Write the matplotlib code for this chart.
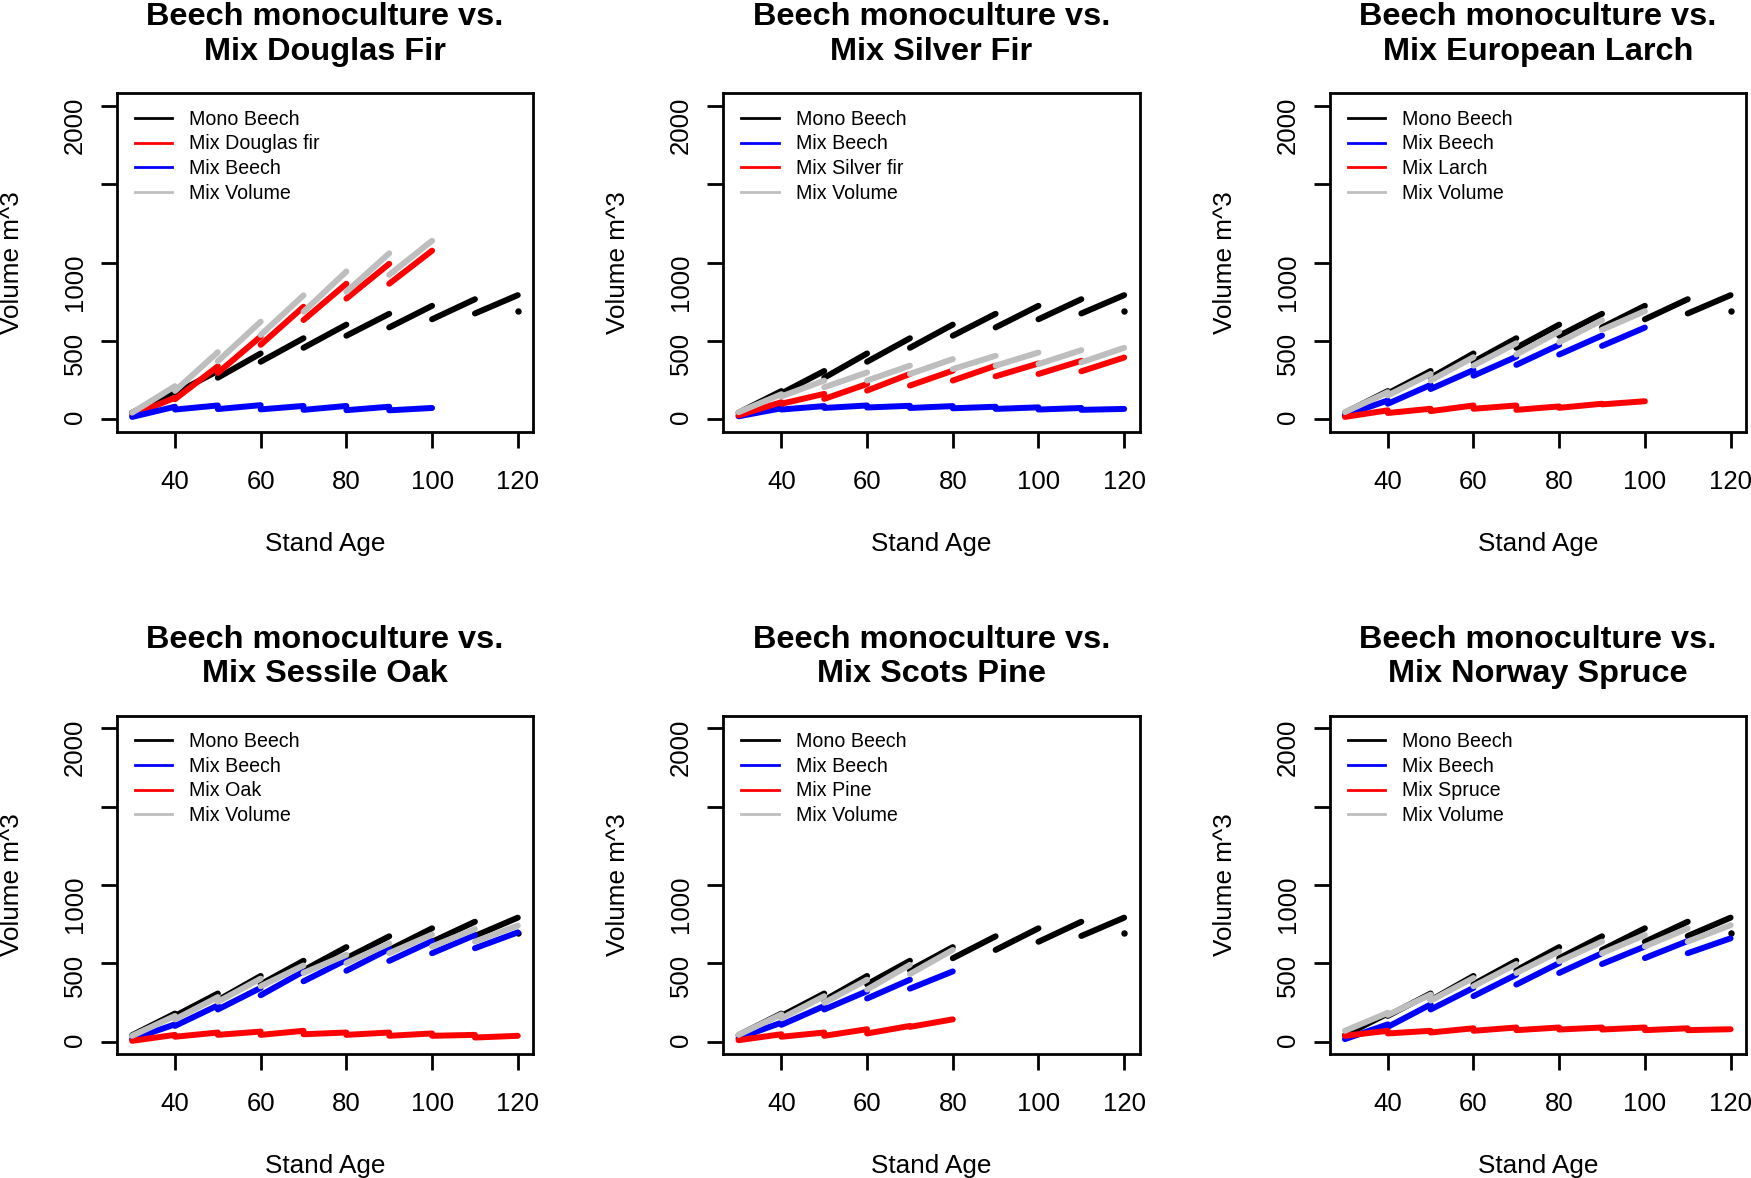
import matplotlib
matplotlib.use('Agg')
import matplotlib.pyplot as plt
from matplotlib.lines import Line2D

plt.rcParams['font.family'] = ['Liberation Sans', 'DejaVu Sans']

# thinning ages: each segment runs from ages[i] to ages[i+1]
ages = [30, 40, 50, 60, 70, 80, 90, 100, 110, 120]

# beech monoculture (same in every panel), volume at start / end of each period
mono_start = [42, 165, 265, 367, 456, 533, 586, 638, 675]
mono_end = [180, 308, 420, 517, 604, 673, 724, 766, 792]
mono_after = 694  # value after the last thinning at 120

# Douglas fir mixture (to age 100)
dgl_fir_start = [27, 128, 296, 475, 633, 770, 865]
dgl_fir_end = [137, 338, 528, 718, 865, 992, 1076]
dgl_beech_start = [15, 62, 65, 63, 60, 58, 57]
dgl_beech_end = [80, 88, 90, 85, 85, 80, 72]
dgl_vol_start = [42, 181, 370, 538, 686, 813, 922]
dgl_vol_end = [211, 428, 623, 791, 943, 1059, 1139]

# Silver fir mixture
sfr_beech_start = [19, 62, 72, 75, 72, 70, 66, 62, 60]
sfr_beech_end = [70, 84, 88, 86, 84, 80, 76, 72, 66]
sfr_fir_start = [25, 99, 130, 183, 215, 247, 274, 289, 306]
sfr_fir_end = [109, 162, 225, 289, 310, 342, 356, 373, 394]
sfr_vol_start = [45, 146, 204, 247, 289, 320, 342, 352, 363]
sfr_vol_end = [160, 247, 299, 342, 384, 405, 426, 441, 456]

# European larch mixture (to age 100)
lrc_beech_start = [25, 99, 193, 278, 347, 413, 468]
lrc_beech_end = [120, 219, 314, 399, 475, 534, 585]
lrc_larch_start = [15, 40, 52, 67, 60, 73, 95]
lrc_larch_end = [57, 67, 88, 88, 82, 99, 115]
lrc_vol_start = [46, 152, 247, 342, 413, 491, 571]
lrc_vol_end = [173, 289, 396, 485, 560, 632, 690]

# Sessile oak mixture
oak_beech_start = [17, 101, 206, 297, 386, 453, 516, 565, 597]
oak_beech_end = [111, 232, 344, 449, 523, 592, 643, 681, 698]
oak_oak_start = [6, 32, 44, 44, 48, 44, 38, 38, 27]
oak_oak_end = [44, 59, 65, 70, 59, 59, 53, 44, 38]
oak_vol_start = [38, 143, 255, 354, 439, 502, 565, 608, 639]
oak_vol_end = [165, 285, 403, 487, 555, 628, 684, 719, 741]

# Scots pine mixture (to age 80)
pin_beech_start = [23, 108, 206, 276, 339]
pin_beech_end = [122, 228, 323, 396, 449]
pin_pine_start = [10, 32, 38, 53, 95]
pin_pine_end = [48, 59, 80, 101, 143]
pin_vol_start = [44, 149, 249, 333, 432]
pin_vol_end = [175, 291, 396, 491, 586]

# Norway spruce mixture
spr_beech_start = [17, 95, 206, 291, 365, 439, 496, 534, 565]
spr_beech_end = [111, 238, 344, 428, 502, 565, 608, 643, 660]
spr_spruce_start = [38, 53, 59, 70, 74, 78, 78, 74, 74]
spr_spruce_end = [70, 70, 86, 91, 91, 91, 91, 86, 80]
spr_vol_start = [70, 171, 263, 354, 439, 513, 565, 608, 639]
spr_vol_end = [185, 301, 407, 496, 576, 639, 681, 723, 744]

GRAY = '#BEBEBE'

panels = [
    ("Beech monoculture vs.\nMix Douglas Fir",
     [("Mix Douglas fir", 'red', dgl_fir_start, dgl_fir_end),
      ("Mix Beech", 'blue', dgl_beech_start, dgl_beech_end),
      ("Mix Volume", GRAY, dgl_vol_start, dgl_vol_end)]),
    ("Beech monoculture vs.\nMix Silver Fir",
     [("Mix Beech", 'blue', sfr_beech_start, sfr_beech_end),
      ("Mix Silver fir", 'red', sfr_fir_start, sfr_fir_end),
      ("Mix Volume", GRAY, sfr_vol_start, sfr_vol_end)]),
    ("Beech monoculture vs.\nMix European Larch",
     [("Mix Beech", 'blue', lrc_beech_start, lrc_beech_end),
      ("Mix Larch", 'red', lrc_larch_start, lrc_larch_end),
      ("Mix Volume", GRAY, lrc_vol_start, lrc_vol_end)]),
    ("Beech monoculture vs.\nMix Sessile Oak",
     [("Mix Beech", 'blue', oak_beech_start, oak_beech_end),
      ("Mix Oak", 'red', oak_oak_start, oak_oak_end),
      ("Mix Volume", GRAY, oak_vol_start, oak_vol_end)]),
    ("Beech monoculture vs.\nMix Scots Pine",
     [("Mix Beech", 'blue', pin_beech_start, pin_beech_end),
      ("Mix Pine", 'red', pin_pine_start, pin_pine_end),
      ("Mix Volume", GRAY, pin_vol_start, pin_vol_end)]),
    ("Beech monoculture vs.\nMix Norway Spruce",
     [("Mix Beech", 'blue', spr_beech_start, spr_beech_end),
      ("Mix Spruce", 'red', spr_spruce_start, spr_spruce_end),
      ("Mix Volume", GRAY, spr_vol_start, spr_vol_end)]),
]

W, H = 1751, 1178
fig = plt.figure(figsize=(W / 100, H / 100), dpi=100)

box_w, box_h = 416.5, 338.5
col_left = [116.7, 723.1, 1329.5]
row_top = [93.3, 715.8]


def draw_steps(ax, starts, ends, color):
    for i in range(len(starts)):
        ax.plot([ages[i], ages[i + 1]], [starts[i], ends[i]], color=color,
                lw=4.3, solid_capstyle='round')


for k, (title, series) in enumerate(panels):
    r, c = divmod(k, 3)
    left = col_left[c] / W
    bottom = 1 - (row_top[r] + box_h) / H
    ax = fig.add_axes([left, bottom, box_w / W, box_h / H])

    draw_steps(ax, mono_start, mono_end, 'black')
    ax.plot([ages[-1]], [mono_after], 'o', color='black', ms=3.6)
    for label, color, s, e in series:
        draw_steps(ax, s, e, color)

    ax.set_xlim(26.4, 123.6)
    ax.set_ylim(-80, 2080)
    ax.set_xticks([40, 60, 80, 100, 120])
    ax.set_yticks([0, 500, 1000, 1500, 2000])
    ax.set_yticklabels(['0', '500', '1000', '', '2000'])
    ax.tick_params(axis='both', length=11.5, width=2, labelsize=18.5)
    ax.tick_params(axis='x', pad=16)
    ax.tick_params(axis='y', labelrotation=90, pad=10)
    for sp in ax.spines.values():
        sp.set_linewidth(2)

    ax.set_xlabel('Stand Age', fontsize=18.8, va='center')
    ax.xaxis.set_label_coords(0.5, -112 / box_h)
    ax.set_ylabel('Volume m^3', fontsize=18.8, va='center')
    ax.yaxis.set_label_coords(-105 / box_w, 0.5)

    ax.set_title(title, fontsize=23.4, fontweight='bold', pad=24, linespacing=1.2)

    handles = [Line2D([], [], color='black', lw=2)]
    labels = ['Mono Beech']
    for label, color, s, e in series:
        handles.append(Line2D([], [], color=color, lw=2))
        labels.append(label)
    ax.legend(handles, labels, loc='upper left',
              bbox_to_anchor=(18.3 / box_w, 1 - 16.5 / box_h),
              frameon=False, fontsize=14.1, handlelength=1.9,
              handletextpad=0.88, labelspacing=0.285, borderpad=0,
              borderaxespad=0)

fig.savefig('out.png', dpi=100)
